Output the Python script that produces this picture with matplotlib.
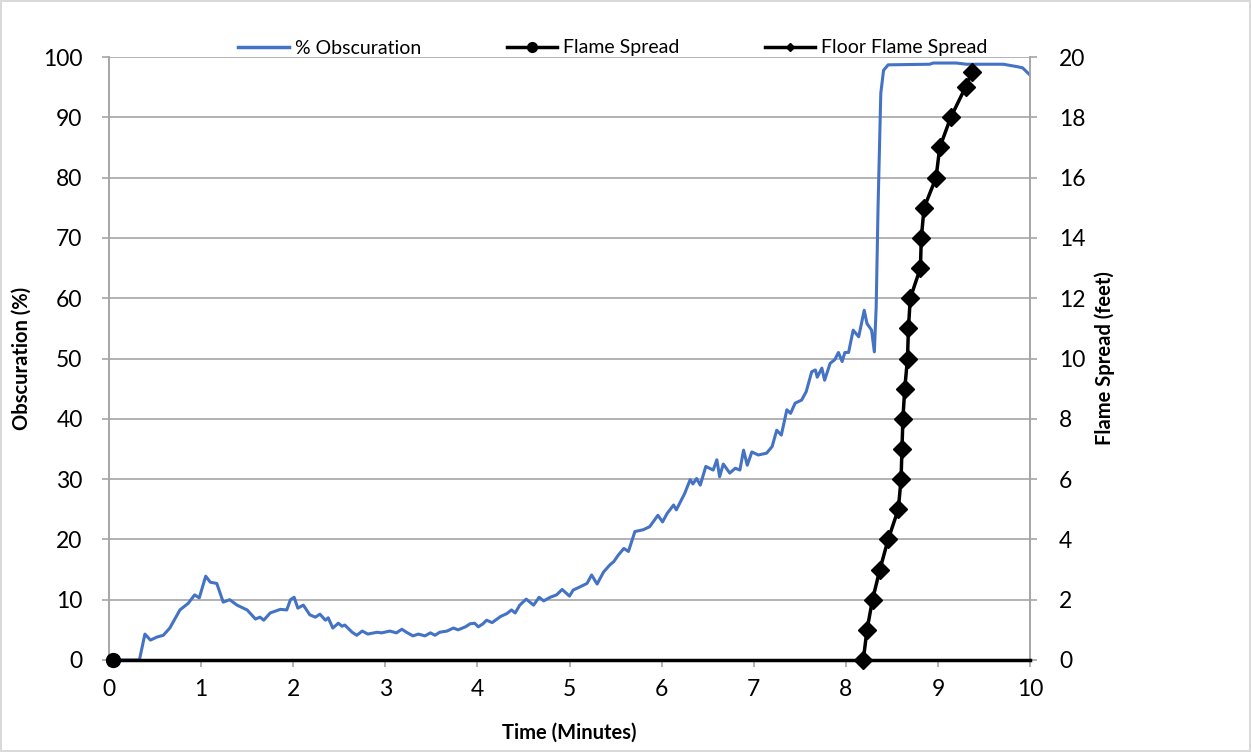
import matplotlib
matplotlib.use("Agg")
import matplotlib.pyplot as plt
from matplotlib.lines import Line2D

plt.rcParams['font.family'] = ['Lato', 'DejaVu Sans']

# % Obscuration (left axis)
obsc_time = [0, 0.33, 0.39, 0.45, 0.52, 0.59, 0.66, 0.77, 0.86, 0.93, 0.98, 1.05, 1.10, 1.17,
             1.24, 1.31, 1.39, 1.50, 1.59, 1.64, 1.68, 1.75, 1.86, 1.93, 1.97, 2.01, 2.05, 2.11,
             2.18, 2.24, 2.29, 2.35, 2.38, 2.43, 2.49, 2.53, 2.56, 2.64, 2.69, 2.75, 2.81, 2.91,
             2.96, 3.05, 3.12, 3.18, 3.23, 3.30, 3.36, 3.43, 3.49, 3.54, 3.59, 3.67, 3.74, 3.79,
             3.87, 3.92, 3.97, 4.01, 4.06, 4.10, 4.16, 4.25, 4.32, 4.37, 4.41, 4.46, 4.53, 4.61,
             4.67, 4.72, 4.79, 4.86, 4.92, 5.00, 5.04, 5.11, 5.19, 5.24, 5.30, 5.37, 5.44, 5.48,
             5.53, 5.59, 5.64, 5.71, 5.80, 5.87, 5.96, 6.01, 6.06, 6.13, 6.16, 6.25, 6.31, 6.34,
             6.38, 6.42, 6.48, 6.56, 6.60, 6.63, 6.67, 6.74, 6.80, 6.85, 6.89, 6.93, 6.98, 7.05,
             7.14, 7.20, 7.25, 7.30, 7.36, 7.40, 7.45, 7.52, 7.57, 7.63, 7.67, 7.69, 7.74, 7.77,
             7.83, 7.88, 7.92, 7.96, 7.99, 8.03, 8.08, 8.14, 8.20, 8.23, 8.28, 8.31, 8.33, 8.35,
             8.38, 8.41, 8.46, 8.91, 8.95, 9.20, 9.31, 9.71, 9.86, 9.92, 10.0]
obsc_pct = [0, 0, 4.3, 3.3, 3.8, 4.1, 5.3, 8.3, 9.4, 10.8, 10.3, 13.9, 12.9, 12.7,
            9.6, 10.0, 9.1, 8.3, 6.8, 7.1, 6.6, 7.8, 8.4, 8.3, 10.0, 10.4, 8.6, 9.1,
            7.5, 7.1, 7.6, 6.6, 7.0, 5.3, 6.1, 5.6, 5.8, 4.6, 4.1, 4.8, 4.3, 4.6,
            4.5, 4.8, 4.5, 5.1, 4.6, 4.0, 4.3, 4.0, 4.5, 4.1, 4.6, 4.8, 5.3, 5.0,
            5.5, 6.0, 6.1, 5.5, 6.0, 6.6, 6.2, 7.2, 7.7, 8.3, 7.8, 9.1, 10.1, 9.1,
            10.4, 9.8, 10.4, 10.8, 11.7, 10.6, 11.6, 12.1, 12.7, 14.1, 12.6, 14.6, 15.8, 16.3,
            17.4, 18.5, 18.0, 21.3, 21.6, 22.1, 24.0, 22.9, 24.3, 25.7, 24.9, 27.6, 29.9, 29.2,
            30.1, 29.0, 32.1, 31.5, 33.2, 30.4, 32.5, 31.0, 31.8, 31.5, 34.8, 32.3, 34.5, 34.0,
            34.3, 35.4, 38.1, 37.3, 41.5, 40.9, 42.6, 43.1, 44.5, 47.8, 48.1, 46.9, 48.4, 46.4,
            49.2, 49.8, 51.0, 49.5, 51.0, 51.0, 54.7, 53.6, 58.0, 55.8, 54.7, 51.1, 58.6, 75.0,
            94.0, 97.8, 98.7, 98.8, 99.0, 99.0, 98.8, 98.8, 98.4, 98.2, 97.0]

# Flame Spread (right axis)
flame_time = [0.04, 10.0]
flame_ft = [0, 0]

# Floor Flame Spread (right axis)
floor_time = [8.19, 8.23, 8.29, 8.37, 8.46, 8.57, 8.60, 8.61, 8.62, 8.64, 8.67, 8.68, 8.70,
              8.81, 8.82, 8.85, 8.98, 9.02, 9.14, 9.30, 9.37]
floor_ft = [0, 1, 2, 3, 4, 5, 6, 7, 8, 9, 10, 11, 12, 13, 14, 15, 16, 17, 18, 19, 19.5]

left_ticks = list(range(0, 101, 10))
right_ticks = list(range(0, 21, 2))
x_ticks = list(range(0, 11))

W, H = 1251, 752
fig = plt.figure(figsize=(W / 100, H / 100), dpi=100)
fig.patch.set_edgecolor('#d9d9d9')
fig.patch.set_linewidth(1.5)

L, R, B, T = 109 / W, 1030 / W, 1 - 660 / H, 1 - 57 / H
ax = fig.add_axes([L, B, R - L, T - B])
ax2 = ax.twinx()

blue = '#4472C4'
grid = '#a6a6a6'
ax.plot(obsc_time, obsc_pct, color=blue, lw=2.2, zorder=3)
ax.set_xlim(0, 10)
ax.set_ylim(0, 100)
ax.set_xticks(x_ticks)
ax.set_yticks(left_ticks)
ax.yaxis.grid(True, color=grid, lw=1.2)
ax.set_axisbelow(True)

ax2.plot(flame_time, flame_ft, color='black', lw=2.5, marker='o', ms=10, markevery=[0],
         zorder=4, clip_on=False)
ax2.plot(floor_time, floor_ft, color='black', lw=2.5, marker='D', ms=9.5, zorder=4, clip_on=False)
ax2.set_ylim(0, 20)
ax2.set_yticks(right_ticks)

for a in (ax, ax2):
    for s in a.spines.values():
        s.set_color(grid)
        s.set_linewidth(1.2)
    a.spines['top'].set_visible(False)
    a.tick_params(axis='both', colors=grid, labelcolor='black', labelsize=16.5, length=5, width=1.2)
ax.tick_params(axis='x', pad=9)
ax.tick_params(axis='y', pad=14)
ax2.tick_params(axis='y', pad=16)

ax.set_xlabel('Time (Minutes)', fontsize=14.5, fontweight='bold')
ax.set_ylabel('Obscuration (%)', fontsize=14.5, fontweight='bold')
ax2.set_ylabel('Flame Spread (feet)', fontsize=14.5, fontweight='bold')
ax.xaxis.set_label_coords(0.5, (660 - 733) / 603, transform=ax.transAxes)
ax.yaxis.set_label_coords((22 - 109) / 921, 0.5, transform=ax.transAxes)
ax2.yaxis.set_label_coords((1105 - 109) / 921, 0.5, transform=ax.transAxes)
ax.xaxis.label.set_va('center')
ax.yaxis.label.set_va('center')
ax2.yaxis.label.set_va('center')

handles = [Line2D([], [], color=blue, lw=2.5),
           Line2D([], [], color='black', lw=2.5, marker='o', ms=7),
           Line2D([], [], color='black', lw=2.5, marker='D', ms=4.5)]
labels = ['% Obscuration', 'Flame Spread', 'Floor Flame Spread']
fig.legend(handles, labels, loc='center', bbox_to_anchor=(0.490, 1 - 48 / H), ncol=3,
           frameon=False, fontsize=14, handlelength=2.6, columnspacing=4.4, handletextpad=0.3)

fig.savefig('out.png', dpi=100, edgecolor=fig.get_edgecolor())
